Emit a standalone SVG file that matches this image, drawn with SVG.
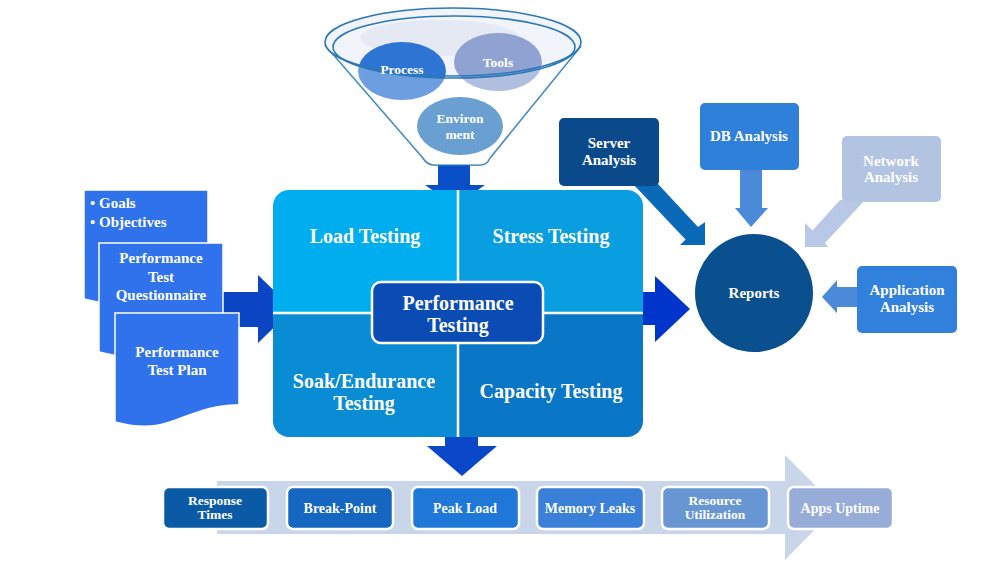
<svg xmlns="http://www.w3.org/2000/svg" width="983" height="583" viewBox="0 0 983 583">
<style>
  text { font-family: "Liberation Serif", "Times New Roman", serif; font-weight: bold; fill: #ffffff; text-anchor: middle; }
  .t20 { font-size: 20px; }
  .t15 { font-size: 15px; }
  .t14 { font-size: 14px; }
  .t13 { font-size: 13.5px; }
  .doc { fill: #3072ec; stroke: #ffffff; stroke-width: 1.5; }
  .fun { fill: none; stroke: #2a78b8; stroke-width: 1.6; }
  .box { stroke: #ffffff; stroke-width: 2.5; }
</style>
<defs>
  <clipPath id="blockClip"><rect x="273" y="190" width="370" height="247" rx="16"/></clipPath>
  <path id="docShape" d="M0,0 H124 V92 C100,91 80,100 55,109 C38,115 18,114 0,109 Z"/>
</defs>
<rect width="983" height="583" fill="#ffffff"/>

<!-- Timeline band -->
<g id="timeline">
  <polygon points="217,481 785,481 785,455 837,507 785,560 785,534 217,534" fill="#c9d5e8"/>
</g>

<!-- Connectors -->
<g id="connectors">
  <polygon points="438,160 470,160 470,185 485,185 455,206 425,185 438,185" fill="#0a4ec8"/>
  <polygon points="223,292 258,292 258,275 293,309 258,343 258,327 223,327" fill="#0b45c4"/>
  <polygon points="620,292 655,292 655,276 690,309 655,342 655,325 620,325" fill="#0035cc"/>
  <polygon points="445,417 478,417 478,446 497,446 462,476 427,446 445,446" fill="#0a46c8"/>
  <polygon points="633,184 658,184 698,227 705,222 705,245 680,245 685.5,239.5" fill="#0b6ab8"/>
  <polygon points="740,170 762,170 762,208 768,208 751,227 735,208 740,208" fill="#4a8ad8"/>
  <polygon points="840,200 865,200 825,243 828,247 805,247 805,223 812.5,230.5" fill="#b8c8e6"/>
  <polygon points="858,287 837,287 837,280 822,297 837,313 837,307 858,307" fill="#4a8ad8"/>
</g>

<!-- Funnel -->
<g id="funnel">
  <path d="M325,45 L423,158 Q427,165 435,165 L480,165 Q487,165 490,158 L581,46" fill="#ffffff" stroke="#2a78b8" stroke-width="1.6"/>
  <ellipse cx="453" cy="42" rx="128" ry="34" fill="#f1f4fa"/>
  <ellipse cx="440" cy="38" rx="80" ry="18" fill="#e4e9f3"/>
  <g id="process">
    <ellipse cx="402" cy="71" rx="44" ry="29" fill="#2e74d2"/>
  </g>
  <g id="tools">
    <ellipse cx="498" cy="62" rx="44" ry="29" fill="#8fa2d2"/>
  </g>
  <g id="environment">
    <ellipse cx="460" cy="126" rx="43" ry="29" fill="#2a76bf"/>
  </g>
  <path d="M333,47 A121,31 0 0,0 575,47 L581,46 L490,158 Q487,165 480,165 L435,165 Q427,165 423,158 L325,45 Z" fill="#ffffff" fill-opacity="0.3"/>
  <ellipse cx="453" cy="42" rx="128" ry="34" class="fun"/>
  <ellipse cx="454" cy="47" rx="121" ry="31" class="fun"/>
  <text class="t13" x="402" y="74">Process</text>
  <text class="t13" x="498" y="67">Tools</text>
  <text class="t13" x="460" y="123">Environ</text>
  <text class="t13" x="460" y="139">ment</text>
</g>

<!-- Documents -->
<g id="doc-goals">
  <use href="#docShape" class="doc" transform="translate(84,190)"/>
  <text class="t15" x="90" y="208" style="text-anchor:start">• Goals</text>
  <text class="t15" x="90" y="227" style="text-anchor:start">• Objectives</text>
</g>
<g id="doc-questionnaire">
  <use href="#docShape" class="doc" transform="translate(99,243)"/>
  <text class="t15" x="161" y="263">Performance</text>
  <text class="t15" x="161" y="282">Test</text>
  <text class="t15" x="161" y="300">Questionnaire</text>
</g>
<g id="doc-plan">
  <use href="#docShape" class="doc" transform="translate(115,313)"/>
  <text class="t15" x="177" y="357">Performance</text>
  <text class="t15" x="177" y="375">Test Plan</text>
</g>

<!-- Main block -->
<g id="main-block">
  <g clip-path="url(#blockClip)">
    <rect x="273" y="190" width="185" height="123" fill="#00aeef"/>
    <rect x="458" y="190" width="185" height="123" fill="#089ee0"/>
    <rect x="273" y="313" width="185" height="124" fill="#0a8cd4"/>
    <rect x="458" y="313" width="185" height="124" fill="#0a76c6"/>
  </g>
  <line x1="458" y1="190" x2="458" y2="437" stroke="#ffffff" stroke-width="2.5"/>
  <line x1="273" y1="313" x2="643" y2="313" stroke="#ffffff" stroke-width="2.5"/>
  <g id="load-testing"><text class="t20" x="365" y="243">Load Testing</text></g>
  <g id="stress-testing"><text class="t20" x="551" y="243">Stress Testing</text></g>
  <g id="soak-testing"><text class="t20" x="364" y="388">Soak/Endurance</text><text class="t20" x="364" y="410">Testing</text></g>
  <g id="capacity-testing"><text class="t20" x="551" y="398">Capacity Testing</text></g>
  <g id="performance-testing">
    <rect x="372" y="282" width="171" height="61" rx="9" fill="#0a4cb4" stroke="#ffffff" stroke-width="2.5"/>
    <text class="t20" x="458" y="310">Performance</text>
    <text class="t20" x="458" y="332">Testing</text>
  </g>
</g>

<!-- Right side -->
<g id="server-analysis">
  <rect x="559" y="118" width="100" height="68" rx="5" fill="#0b4a8a"/>
  <text class="t15" x="609" y="148">Server</text>
  <text class="t15" x="609" y="165">Analysis</text>
</g>
<g id="db-analysis">
  <rect x="700" y="103" width="99" height="67" rx="5" fill="#2f80d8"/>
  <text class="t15" x="749" y="141">DB Analysis</text>
</g>
<g id="network-analysis">
  <rect x="842" y="136" width="99" height="66" rx="5" fill="#b3c3e2"/>
  <text class="t15" x="891" y="166">Network</text>
  <text class="t15" x="891" y="182">Analysis</text>
</g>
<g id="application-analysis">
  <rect x="857" y="266" width="100" height="67" rx="5" fill="#3080dc"/>
  <text class="t15" x="907" y="295">Application</text>
  <text class="t15" x="907" y="312">Analysis</text>
</g>
<g id="reports">
  <circle cx="754" cy="293" r="59" fill="#0a4f8e"/>
  <text class="t15" x="754" y="298">Reports</text>
</g>

<!-- Bottom outcomes -->
<g id="response-times">
  <rect x="163" y="487" width="105" height="42" rx="6" class="box" fill="#0b5aa6"/>
  <text class="t13" x="215" y="505">Response</text>
  <text class="t13" x="215" y="519">Times</text>
</g>
<g id="break-point">
  <rect x="287" y="487" width="106" height="42" rx="6" class="box" fill="#1466c0"/>
  <text class="t14" x="340" y="513">Break-Point</text>
</g>
<g id="peak-load">
  <rect x="412" y="487" width="107" height="42" rx="6" class="box" fill="#1f78d8"/>
  <text class="t14" x="465" y="513">Peak Load</text>
</g>
<g id="memory-leaks">
  <rect x="537" y="487" width="107" height="42" rx="6" class="box" fill="#3a80d8"/>
  <text class="t14" x="590" y="513">Memory Leaks</text>
</g>
<g id="resource-utilization">
  <rect x="662" y="487" width="107" height="42" rx="6" class="box" fill="#6896d2"/>
  <text class="t13" x="715" y="505">Resource</text>
  <text class="t13" x="715" y="519">Utilization</text>
</g>
<g id="apps-uptime">
  <rect x="788" y="487" width="105" height="42" rx="6" class="box" fill="#98acd8"/>
  <text class="t14" x="840" y="513">Apps Uptime</text>
</g>
</svg>
